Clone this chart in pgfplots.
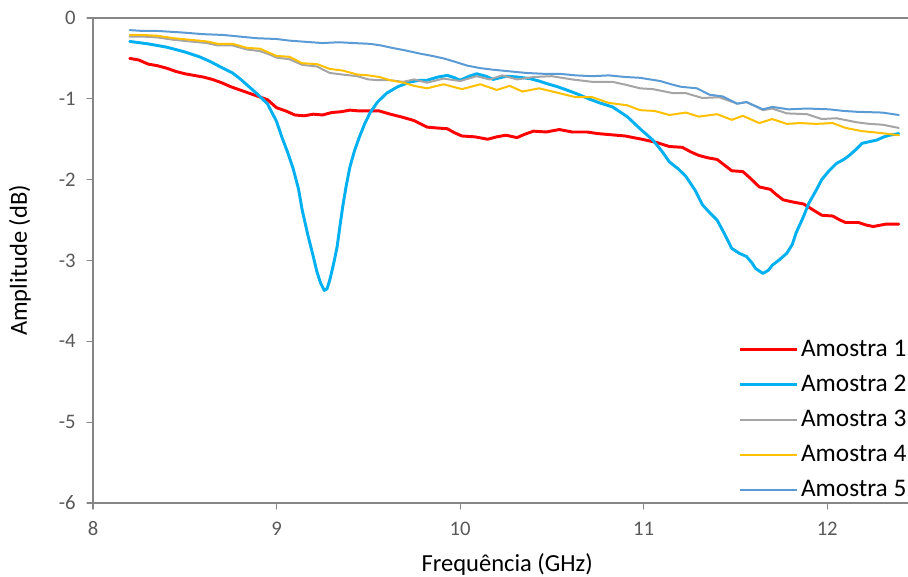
\documentclass[border=0pt]{standalone}
\usepackage{pgfplots}
\pgfplotsset{compat=1.18}
\usepackage{fontspec}
\setmainfont{Carlito}
\definecolor{c1}{HTML}{FF0000}
\definecolor{c2}{HTML}{00B0F0}
\definecolor{c3}{HTML}{A5A5A5}
\definecolor{c4}{HTML}{FFC000}
\definecolor{c5}{HTML}{5B9BD5}
\definecolor{axgray}{HTML}{868686}
\definecolor{tickgray}{HTML}{595959}
\begin{document}
\begin{tikzpicture}
\begin{axis}[
  scale only axis, width=611.25pt, height=363.75pt,
  xmin=8, xmax=12.44, ymin=-6, ymax=0,
  axis x line*=bottom, axis y line*=left,
  axis line style={draw=axgray, line width=0.9pt, -},
  xtick={8,9,10,11,12}, ytick={-6,-5,-4,-3,-2,-1,0},
  tick align=outside, major tick length=4.5pt,
  tick style={draw=axgray, line width=0.9pt},
  minor tick num=0,
  /pgf/number format/assume math mode=true,
  tick label style={font=\fontsize{15.5}{18}\selectfont, text=tickgray},
  yticklabel style={xshift=-5pt},
  xticklabel style={yshift=-6pt},
  xlabel={Frequência (GHz)}, ylabel={Amplitude (dB)},
  label style={font=\fontsize{18.4}{22}\selectfont, text=black},
  xlabel style={at={(axis description cs:0.5,0)}, anchor=center, yshift=-46pt, xshift=5pt},
  ylabel style={at={(axis description cs:0,0.5)}, anchor=center, yshift=54.75pt},
  legend cell align=left,
  legend style={at={(rel axis cs:1,0)}, anchor=south east, draw=none, fill=none,
    font=\fontsize{19}{23}\selectfont, row sep=8.5pt, inner sep=1pt, xshift=2pt, yshift=0pt},
  legend image code/.code={\draw[#1] (0pt,0pt) -- (43pt,0pt);},
  line join=round, line cap=round,
]
\coordinate (O) at (rel axis cs:0,0);
\draw[axgray, line width=0.9pt] (rel axis cs:0,1) -- (rel axis cs:1,1);
% Amostra 1
\addplot[c1, line width=2.2pt] coordinates {
(8.20,-0.50) (8.25,-0.52) (8.30,-0.57) (8.35,-0.59) (8.40,-0.62) (8.45,-0.66) (8.50,-0.69)
(8.55,-0.71) (8.60,-0.73) (8.65,-0.76) (8.70,-0.80) (8.75,-0.85) (8.80,-0.89) (8.85,-0.93)
(8.90,-0.97) (8.95,-1.01) (9.00,-1.11) (9.05,-1.15) (9.10,-1.20) (9.15,-1.21) (9.20,-1.19)
(9.25,-1.20) (9.30,-1.17) (9.35,-1.16) (9.40,-1.14) (9.45,-1.15) (9.50,-1.15) (9.56,-1.15)
(9.62,-1.19) (9.69,-1.23) (9.75,-1.27) (9.82,-1.35) (9.87,-1.36) (9.93,-1.37) (9.97,-1.42)
(10.01,-1.46) (10.08,-1.47) (10.15,-1.50) (10.20,-1.47) (10.25,-1.45) (10.31,-1.48) (10.35,-1.44)
(10.40,-1.40) (10.47,-1.41) (10.54,-1.38) (10.61,-1.41) (10.69,-1.41) (10.75,-1.43) (10.80,-1.44)
(10.90,-1.46) (10.99,-1.50) (11.07,-1.54) (11.14,-1.59) (11.21,-1.60) (11.26,-1.66) (11.30,-1.70)
(11.35,-1.73) (11.40,-1.75) (11.44,-1.82) (11.48,-1.89) (11.54,-1.90) (11.58,-1.98) (11.63,-2.09)
(11.69,-2.12) (11.72,-2.18) (11.76,-2.25) (11.82,-2.28) (11.87,-2.30) (11.92,-2.37) (11.97,-2.44)
(12.03,-2.45) (12.07,-2.50) (12.10,-2.53) (12.17,-2.53) (12.21,-2.56) (12.25,-2.58) (12.32,-2.55)
(12.39,-2.55)
};
\addlegendentry{Amostra 1}
% Amostra 2
\addplot[c2, line width=2.2pt] coordinates {
(8.20,-0.29) (8.30,-0.32) (8.40,-0.36) (8.50,-0.42) (8.58,-0.48) (8.64,-0.54) (8.69,-0.60)
(8.76,-0.68) (8.80,-0.75) (8.84,-0.83) (8.89,-0.93) (8.95,-1.06) (9.00,-1.28) (9.03,-1.48)
(9.06,-1.66) (9.09,-1.86) (9.12,-2.12) (9.14,-2.38) (9.17,-2.68) (9.20,-2.95) (9.22,-3.14)
(9.24,-3.28) (9.26,-3.37) (9.275,-3.35) (9.29,-3.24) (9.31,-3.05) (9.33,-2.83) (9.345,-2.58)
(9.36,-2.34) (9.38,-2.07) (9.40,-1.84) (9.425,-1.64) (9.45,-1.48) (9.48,-1.31) (9.51,-1.17)
(9.55,-1.04) (9.60,-0.93) (9.66,-0.85) (9.73,-0.79) (9.78,-0.77) (9.82,-0.77) (9.88,-0.73)
(9.93,-0.71) (9.97,-0.74) (10.00,-0.77) (10.05,-0.72) (10.09,-0.69) (10.14,-0.72) (10.18,-0.76)
(10.25,-0.72) (10.31,-0.73) (10.38,-0.75) (10.43,-0.78) (10.47,-0.81) (10.53,-0.85) (10.58,-0.89)
(10.65,-0.95) (10.70,-1.00) (10.76,-1.05) (10.83,-1.10) (10.87,-1.16) (10.91,-1.22) (10.98,-1.37)
(11.05,-1.51) (11.10,-1.65) (11.14,-1.78) (11.19,-1.87) (11.23,-1.96) (11.28,-2.13) (11.32,-2.31)
(11.36,-2.41) (11.40,-2.50) (11.44,-2.67) (11.48,-2.85) (11.52,-2.91) (11.56,-2.95) (11.59,-3.03)
(11.61,-3.10) (11.65,-3.16) (11.68,-3.12) (11.70,-3.06) (11.74,-2.99) (11.78,-2.91) (11.81,-2.80)
(11.83,-2.66) (11.87,-2.46) (11.90,-2.29) (11.94,-2.13) (11.97,-2.00) (12.01,-1.89) (12.05,-1.80)
(12.09,-1.75) (12.12,-1.70) (12.16,-1.62) (12.19,-1.55) (12.23,-1.53) (12.27,-1.51) (12.31,-1.47)
(12.34,-1.45) (12.39,-1.43)
};
\addlegendentry{Amostra 2}
% Amostra 3
\addplot[c3, line width=1.5pt] coordinates {
(8.20,-0.23) (8.27,-0.23) (8.35,-0.24) (8.44,-0.27) (8.53,-0.29) (8.62,-0.31) (8.68,-0.34)
(8.76,-0.34) (8.84,-0.39) (8.91,-0.41) (8.96,-0.45) (9.00,-0.49) (9.07,-0.51) (9.14,-0.58)
(9.22,-0.60) (9.29,-0.68) (9.36,-0.70) (9.44,-0.72) (9.50,-0.76) (9.56,-0.77) (9.62,-0.77)
(9.69,-0.79) (9.75,-0.76) (9.82,-0.80) (9.91,-0.75) (10.00,-0.78) (10.09,-0.72) (10.16,-0.76)
(10.23,-0.71) (10.31,-0.76) (10.40,-0.73) (10.50,-0.72) (10.61,-0.76) (10.72,-0.79) (10.83,-0.79)
(10.91,-0.83) (10.98,-0.87) (11.05,-0.88) (11.16,-0.93) (11.23,-0.93) (11.32,-0.99) (11.41,-0.98)
(11.51,-1.06) (11.56,-1.04) (11.65,-1.14) (11.70,-1.12) (11.78,-1.18) (11.89,-1.19) (11.97,-1.25)
(12.05,-1.24) (12.16,-1.29) (12.23,-1.31) (12.30,-1.32) (12.39,-1.36)
};
\addlegendentry{Amostra 3}
% Amostra 4
\addplot[c4, line width=1.5pt] coordinates {
(8.20,-0.21) (8.27,-0.21) (8.35,-0.22) (8.44,-0.25) (8.53,-0.27) (8.62,-0.29) (8.68,-0.32)
(8.76,-0.32) (8.84,-0.37) (8.91,-0.38) (8.96,-0.43) (9.00,-0.47) (9.07,-0.48) (9.14,-0.56)
(9.22,-0.57) (9.29,-0.63) (9.36,-0.65) (9.44,-0.70) (9.50,-0.71) (9.56,-0.73) (9.62,-0.77)
(9.69,-0.80) (9.75,-0.84) (9.82,-0.87) (9.91,-0.82) (10.01,-0.88) (10.11,-0.82) (10.20,-0.89)
(10.27,-0.84) (10.34,-0.91) (10.43,-0.87) (10.54,-0.93) (10.63,-0.98) (10.72,-0.98) (10.81,-1.05)
(10.91,-1.08) (10.98,-1.14) (11.06,-1.15) (11.14,-1.20) (11.23,-1.17) (11.30,-1.22) (11.40,-1.19)
(11.48,-1.26) (11.54,-1.21) (11.63,-1.30) (11.70,-1.25) (11.78,-1.31) (11.85,-1.30) (11.94,-1.31)
(12.03,-1.30) (12.10,-1.36) (12.19,-1.40) (12.28,-1.42) (12.39,-1.45)
};
\addlegendentry{Amostra 4}
% Amostra 5
\addplot[c5, line width=1.5pt] coordinates {
(8.20,-0.15) (8.27,-0.16) (8.35,-0.16) (8.42,-0.17) (8.49,-0.18) (8.60,-0.20) (8.71,-0.21)
(8.80,-0.23) (8.89,-0.25) (9.00,-0.26) (9.07,-0.28) (9.13,-0.29) (9.25,-0.31) (9.34,-0.30)
(9.42,-0.31) (9.51,-0.32) (9.57,-0.34) (9.63,-0.37) (9.70,-0.40) (9.78,-0.44) (9.85,-0.47)
(9.91,-0.50) (9.97,-0.54) (10.04,-0.59) (10.11,-0.62) (10.18,-0.64) (10.27,-0.66) (10.36,-0.68)
(10.45,-0.69) (10.54,-0.69) (10.63,-0.71) (10.72,-0.72) (10.81,-0.71) (10.90,-0.73) (10.98,-0.74)
(11.09,-0.78) (11.15,-0.82) (11.20,-0.85) (11.29,-0.87) (11.36,-0.95) (11.43,-0.97) (11.51,-1.06)
(11.56,-1.04) (11.65,-1.13) (11.70,-1.10) (11.79,-1.13) (11.89,-1.12) (12.01,-1.13) (12.09,-1.15)
(12.16,-1.16) (12.30,-1.17) (12.39,-1.20)
};
\addlegendentry{Amostra 5}
\end{axis}
\pgfresetboundingbox
\path (O) ++(-69.75pt,-55.5pt) rectangle ++(681pt,432.75pt);
\end{tikzpicture}
\end{document}
